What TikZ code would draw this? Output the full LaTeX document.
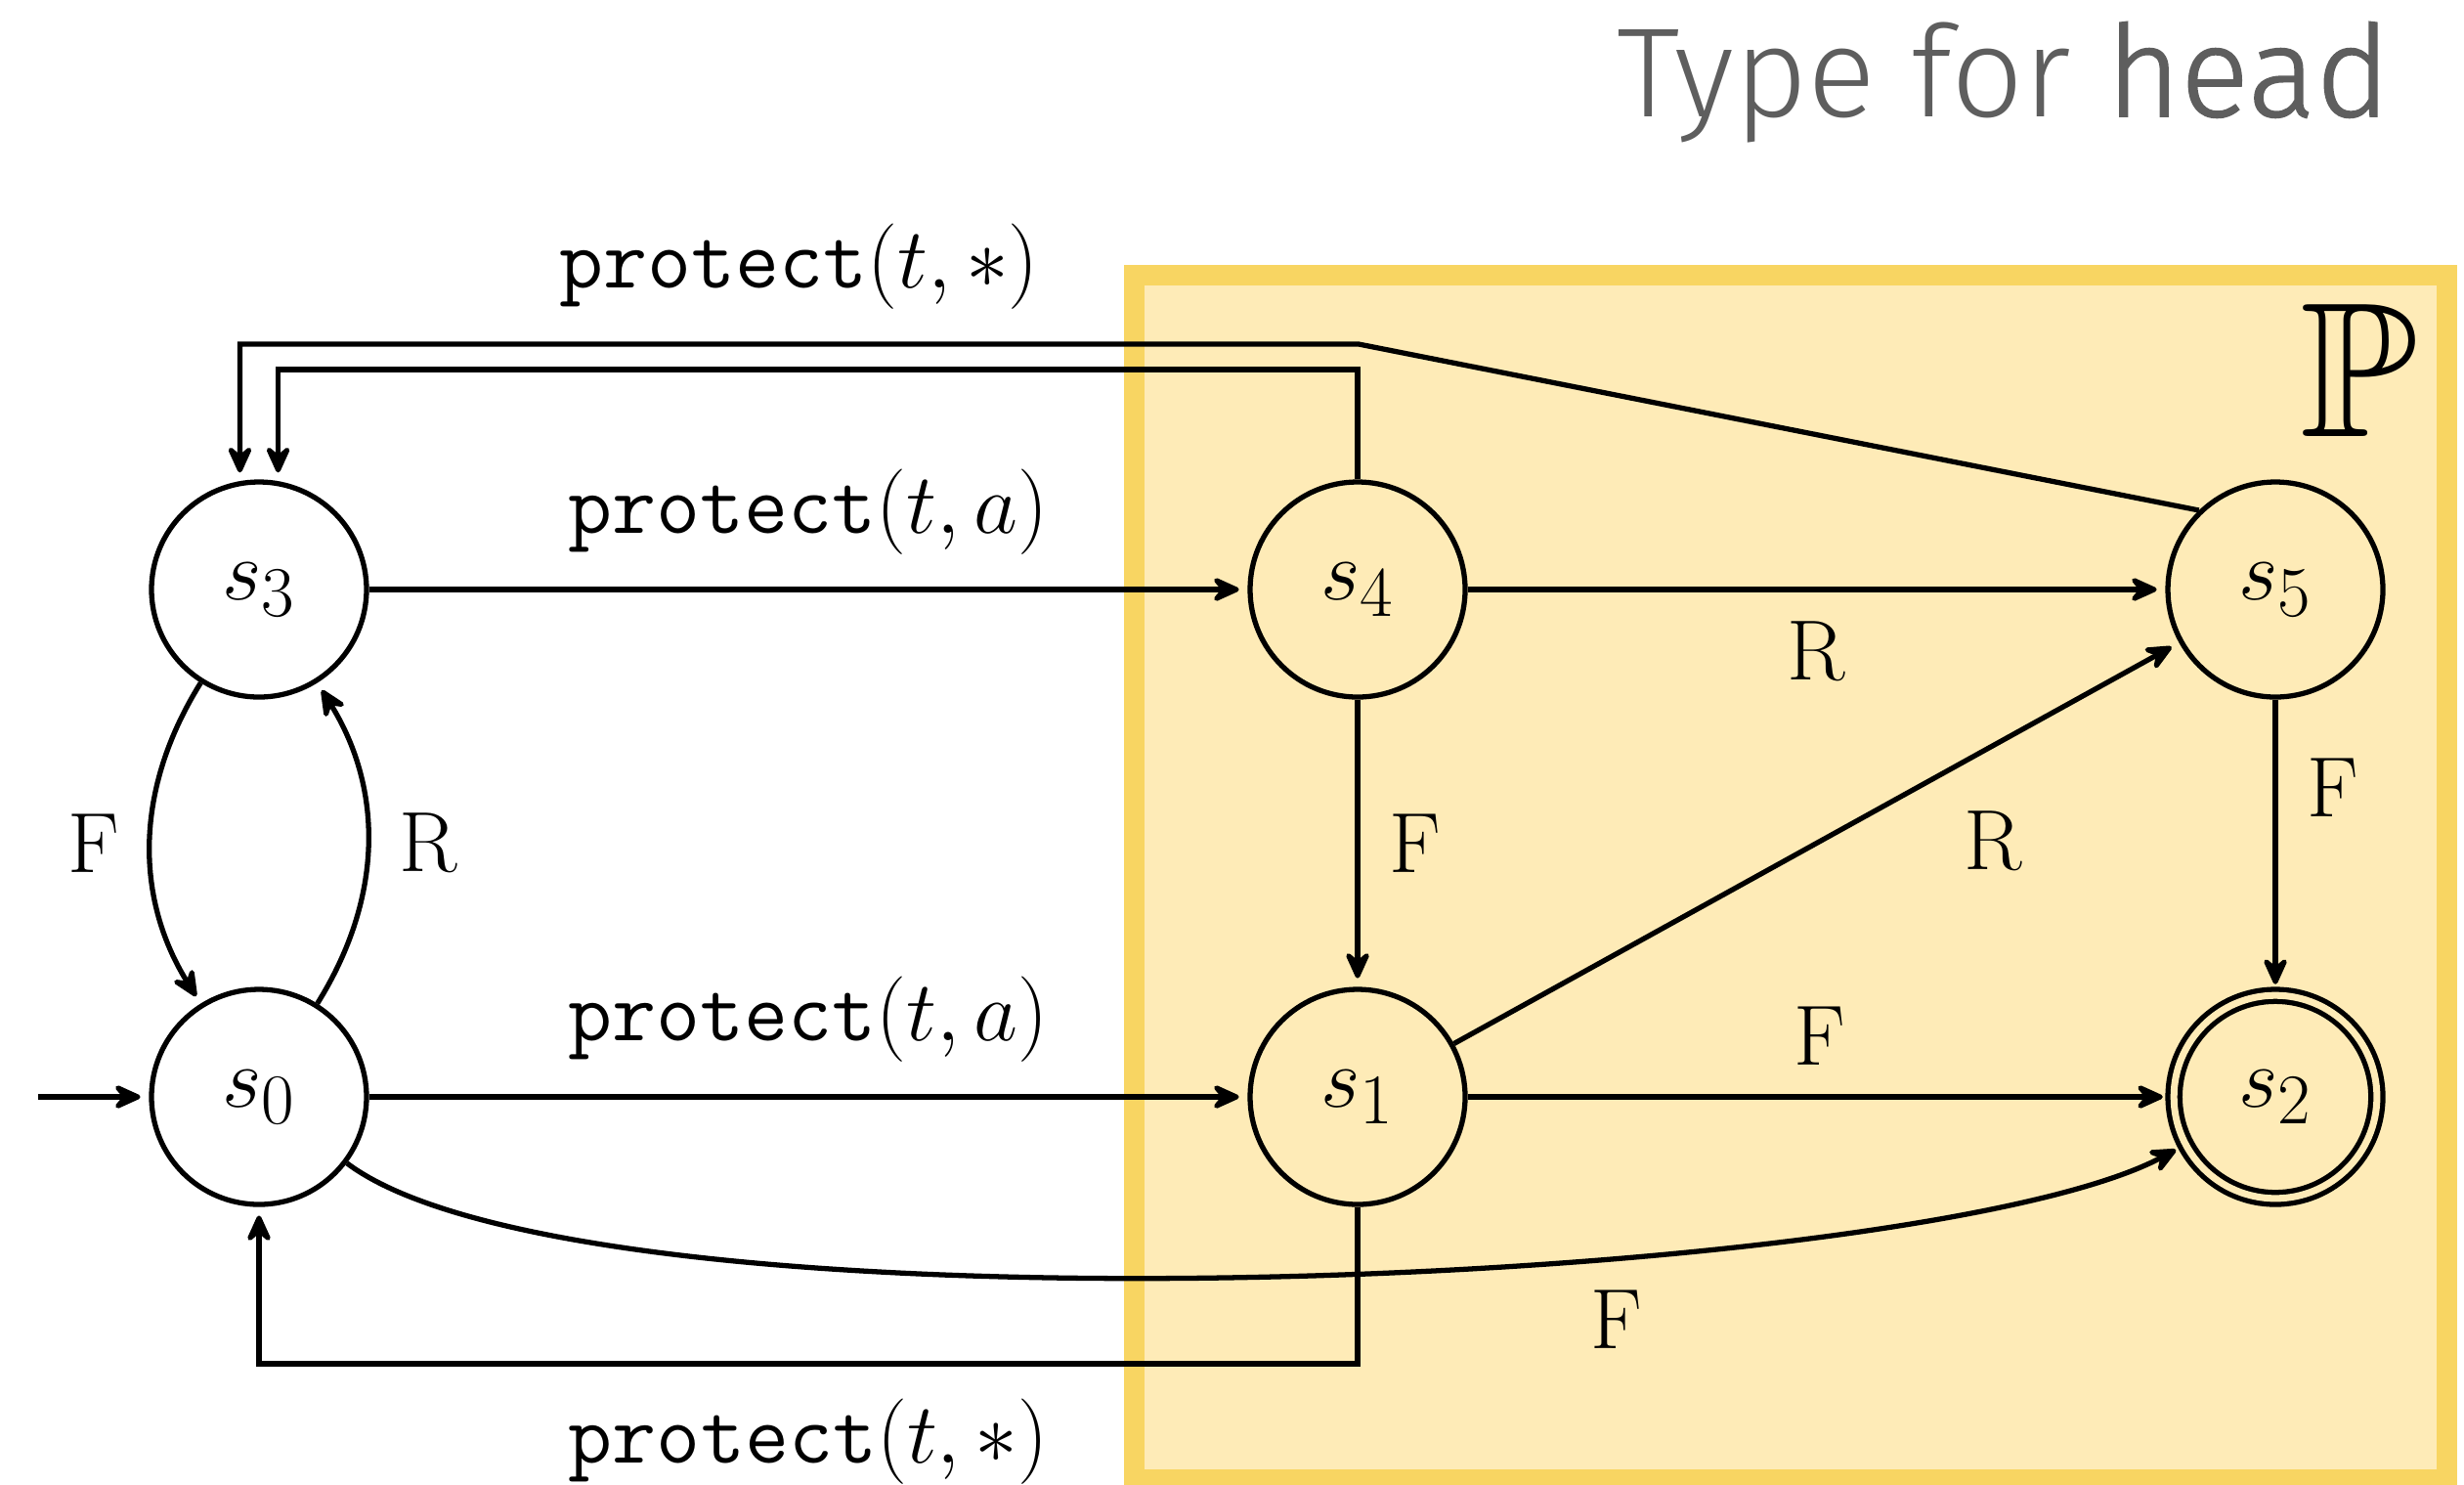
\documentclass[tikz,border=0pt]{standalone}
\usepackage{amssymb}
\usepackage{fontspec}
\newfontfamily\titlelight{Fira Sans Light}
\newfontfamily\titlereg{Fira Sans Light}[FakeBold=1.3]
\usetikzlibrary{arrows.meta}
\definecolor{boxfill}{RGB}{254,235,183}
\definecolor{boxline}{RGB}{248,213,98}
\definecolor{titlegray}{RGB}{94,94,94}
\begin{document}
\begin{tikzpicture}[
  state/.style={circle, draw, line width=1.5pt, minimum size=2.2cm, inner sep=0pt, font=\fontsize{24.88}{30}\selectfont},
  edge/.style={line width=1.5pt, shorten >=2.5pt, -{Stealth[length=10pt, width=9pt, inset=3.8pt, round, line width=1.4pt]}},
  lab/.style={font=\fontsize{24.88}{30}\selectfont, inner sep=0.3cm},
  plab/.style={font=\fontsize{24.88}{30}\selectfont, inner sep=0.33cm},
]
\useasboundingbox (0,0) rectangle (25.21,-15.18);
\draw[boxline, fill=boxfill, line width=0.21cm] (11.605,-2.81) rectangle (25.035,-15.135);
\node[anchor=base east, text=titlegray, inner sep=0pt] (title) at (24.46,-1.19)
  {\fontsize{37}{44}\selectfont\titlelight Type for \titlereg head};
\node[scale=2.25, font=\fontsize{24.88}{30}\selectfont] (P) at (24.14,-3.79) {$\mathbb{P}$};

\node[state] (s3) at (2.65,-6.03) {$s_3$};
\node[state] (s0) at (2.65,-11.22) {$s_0$};
\node[state] (s4) at (13.89,-6.03) {$s_4$};
\node[state] (s1) at (13.89,-11.22) {$s_1$};
\node[state] (s5) at (23.28,-6.03) {$s_5$};
\node[state, double=boxfill, double distance=2pt, minimum size=2.2cm-3.5pt] (s2) at (23.28,-11.22) {$s_2$};

\coordinate (init) at (0.39,-11.22);
\coordinate (k1) at (13.90,-3.52);
\coordinate (k2) at (s4.north |- 0,-3.78);
\coordinate (k3) at (s1.south |- 0,-13.95);

\draw[edge] (init) -- (s0);
\draw[edge] (s0) -- node[plab, above] {\texttt{protect}$(t,a)$} (s1);
\draw[edge] (s3) -- node[plab, above] {\texttt{protect}$(t,a)$} (s4);
\draw[edge] (s3) to[bend right=32] node[lab, left] {F} (s0);
\draw[edge] (s0) to[bend right=32] node[lab, right] {R} (s3);
\draw[edge] (s4) -- node[lab, below] {R} (s5);
\draw[edge] (s4) -- node[lab, right] {F} (s1);
\draw[edge] (s1) -- node[lab, pos=0.66, below right] {R} (s5);
\draw[edge] (s1) -- node[lab, above] {F} (s2);
\draw[edge] (s5) -- node[lab, pos=0.3, right] {F} (s2);
\draw[edge] (s0) to[out=-37, in=208, looseness=0.42] node[lab, pos=0.655, below, yshift=-0.03cm] {F} (s2);
\draw[edge] (s5.134) -- (k1) -| node[plab, pos=0.25, above] {\texttt{protect}$(t,*)$} (s3.100);
\draw[edge] (s4.north) -- (k2) -| (s3.80);
\draw[edge] (s1.south) -- (k3) -| node[plab, pos=0.25, below] {\texttt{protect}$(t,*)$} (s0.south);
\end{tikzpicture}
\end{document}
